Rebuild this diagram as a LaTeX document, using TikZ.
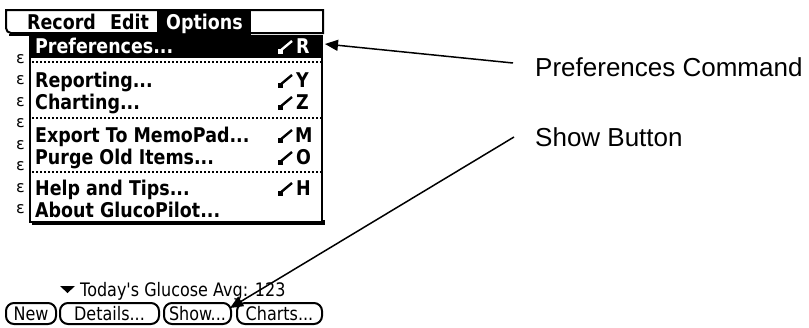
\documentclass[tikz,border=0pt]{standalone}
\usepackage{fontspec}
\setmainfont{Liberation Sans}
\newfontfamily\palmfont[FakeStretch=0.86]{DejaVu Sans}
\newfontfamily\bgfont{DejaVu Sans}
\usetikzlibrary{arrows.meta}
\begin{document}
\begin{tikzpicture}[x=1pt,y=-1pt,
  mb/.style={font=\palmfont\bfseries\fontsize{20.3}{22}\selectfont, inner sep=0pt, anchor=base west},
  mr/.style={font=\palmfont\fontsize{18.6}{20}\selectfont, inner sep=0pt, anchor=base west},
  bg/.style={font=\bgfont\fontsize{16}{16}\selectfont, inner sep=0pt, anchor=west},
  lbl/.style={font=\fontsize{26}{30}\selectfont, inner sep=0pt, anchor=base west},
  btn/.style={draw, line width=2pt, rounded corners=8pt, inner sep=0pt, minimum height=21pt,
              font=\palmfont\fontsize{18.6}{20}\selectfont},
  sep/.style={line width=1.5pt, dash pattern=on 2pt off 2pt},
  arr/.style={line width=1.5pt, -{Triangle[length=13pt,width=11pt]}},
  cmdk/.pic={\draw[line width=2.4pt] (1,-2) -- (13,-12); \fill (-1,-4) rectangle (4,1);}
]
\useasboundingbox[fill=white] (0,0) rectangle (809,327);

% background list glyphs (partially hidden)
\foreach \yy/\nm in {59/e1,80/e2,102/e3,123/e4,145/e5,166/e6,188/e7,209/e8}
  \node[bg] (\nm) at (16,\yy) {\char"03B5};

% menu bar
\draw[line width=2pt, fill=white] (6,10) -- (323,10) -- (323,33) [rounded corners=5pt] -- (6,33) [sharp corners] -- cycle;
\draw[line width=2pt] (9,35) -- (157,35);
\fill (157,9) rectangle (251,37);
\node[mb] (mrec) at (27,29) {Record};
\node[mb] (medit) at (110,29) {Edit};
\node[mb, text=white] (mopt) at (166,29) {Options};

% dropdown menu
\draw[line width=2pt, fill=white] (30,36) rectangle (322,222);
\draw[line width=2pt] (32,224) -- (324,224) -- (324,220);
\fill (29,36) rectangle (323,58);
\draw[sep] (32,62) -- (321,62);
\draw[sep] (32,118) -- (321,118);
\draw[sep] (32,172) -- (321,172);

\node[mb, text=white] (ipref) at (35,53) {Preferences...};
\node[mb] (irep) at (35,87) {Reporting...};
\node[mb] (ichart) at (35,109) {Charting...};
\node[mb] (iexp) at (35,142) {Export To MemoPad...};
\node[mb] (ipurge) at (35,164) {Purge Old Items...};
\node[mb] (ihelp) at (35,195) {Help and Tips...};
\node[mb] (iabout) at (35,217) {About GlucoPilot...};

\pic[white] at (279,53) {cmdk};
\node[mb, text=white] (kR) at (296,53) {R};
\pic at (279,87) {cmdk};
\node[mb] (kY) at (296,87) {Y};
\pic at (279,109) {cmdk};
\node[mb] (kZ) at (296,109) {Z};
\pic at (279,142) {cmdk};
\node[mb] (kM) at (295,142) {M};
\pic at (279,164) {cmdk};
\node[mb] (kO) at (296,164) {O};
\pic at (279,195) {cmdk};
\node[mb] (kH) at (296,195) {H};

% status line
\fill (60,286) -- (75,286) -- (67.5,293) -- cycle;
\node[mr] (avg) at (80,296) {Today's Glucose Avg: 123};

% buttons
\node[btn, minimum width=50pt] (bnew) at (31,313.5) {New};
\node[btn, minimum width=99pt] (bdet) at (109.5,313.5) {Details...};
\node[btn, minimum width=67pt] (bshow) at (197.5,313.5) {Show...};
\node[btn, minimum width=85pt] (bchart) at (279.5,313.5) {Charts...};

% callouts
\node[lbl] (lpref) at (535,76) {Preferences Command};
\node[lbl] (lshow) at (535,146) {Show Button};
\coordinate (prefTail) at (513,63);
\coordinate (prefTip) at (325,44);
\coordinate (showTail) at (514,137);
\coordinate (showTip) at (230,308);
\draw[arr] (prefTail) -- (prefTip);
\draw[arr] (showTail) -- (showTip);
\end{tikzpicture}
\end{document}
